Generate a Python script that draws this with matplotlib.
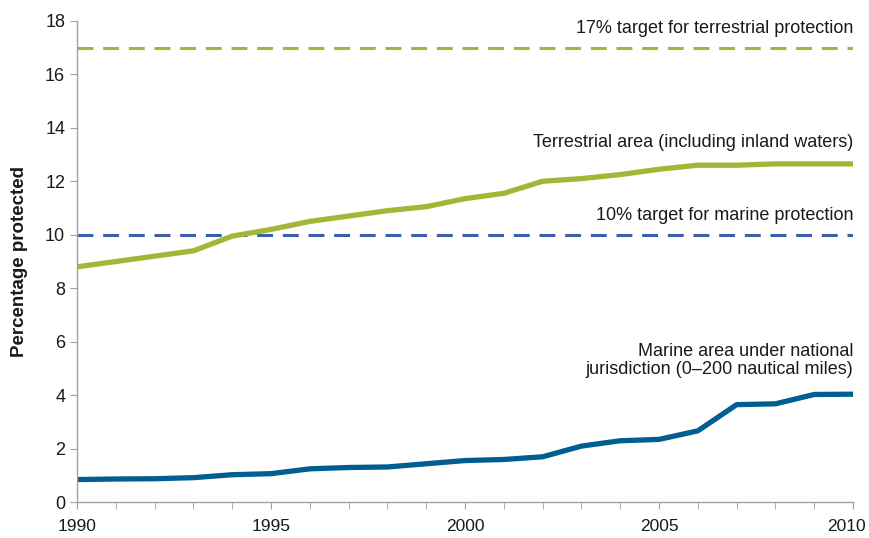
import matplotlib
matplotlib.use("Agg")
import matplotlib.pyplot as plt
from matplotlib.ticker import MultipleLocator, FuncFormatter

plt.rcParams['font.family'] = ['Liberation Sans', 'DejaVu Sans']

years = list(range(1990, 2011))
terrestrial = [8.8, 9.0, 9.2, 9.4, 9.95, 10.2, 10.5, 10.7, 10.9, 11.05, 11.35,
               11.55, 12.0, 12.1, 12.25, 12.45, 12.6, 12.6, 12.65, 12.65, 12.65]
marine = [0.85, 0.87, 0.88, 0.92, 1.03, 1.07, 1.25, 1.3, 1.32, 1.44, 1.56,
          1.6, 1.7, 2.1, 2.3, 2.35, 2.67, 3.65, 3.68, 4.03, 4.04]
terrestrial_target = 17
marine_target = 10

green = '#a4b637'
blue_dash = '#3d5fa9'
marine_col = '#005f90'

fig = plt.figure(figsize=(8.7, 5.38), dpi=100)
ax = fig.add_axes([0.0885, 0.0664, 0.892, 0.895])

ax.axhline(terrestrial_target, color=green, lw=2.2, dashes=(5.2, 3.2))
ax.axhline(marine_target, color=blue_dash, lw=2.2, dashes=(5.2, 3.2))
ax.plot(years, terrestrial, color=green, lw=3.8, solid_capstyle='round')
ax.plot(years, marine, color=marine_col, lw=3.8, solid_capstyle='round')

ax.set_xlim(years[0], years[-1])
ax.set_ylim(0, 18)
ax.xaxis.set_major_locator(MultipleLocator(5))
ax.xaxis.set_minor_locator(MultipleLocator(1))
ax.yaxis.set_major_locator(MultipleLocator(2))
# last year label is drawn separately, nudged left so it fits in the picture
ax.xaxis.set_major_formatter(
    FuncFormatter(lambda v, p: '' if round(v) == years[-1] else f'{v:.0f}'))
for s in ['top', 'right']:
    ax.spines[s].set_visible(False)
for s in ['left', 'bottom']:
    ax.spines[s].set_color('#a0a0a0')
    ax.spines[s].set_linewidth(1.0)
ax.tick_params(axis='both', which='both', color='#a0a0a0', labelsize=13,
               labelcolor='#1a1a1a')
ax.tick_params(axis='x', labelsize=12.5)
ax.tick_params(axis='both', which='major', length=5)
ax.tick_params(axis='x', which='minor', length=5)
ax.tick_params(axis='x', pad=7)
ax.annotate(str(years[-1]), xy=(years[-1], 0), xycoords=('data', 'axes fraction'),
            xytext=(-5, -12), textcoords='offset points', ha='center', va='top',
            fontsize=12.5, color='#1a1a1a', annotation_clip=False)

ax.set_ylabel('Percentage protected', fontsize=13.5, fontweight='bold',
              color='#1a1a1a', labelpad=12)

txt = dict(ha='right', va='center', fontsize=13, color='#1a1a1a')
ax.text(2010, 17.72, '17% target for terrestrial protection', **txt)
ax.text(2010, 13.46, 'Terrestrial area (including inland waters)', **txt)
ax.text(2010, 10.73, '10% target for marine protection', **txt)
ax.text(2010, 5.3, 'Marine area under national\njurisdiction (0\u2013200 nautical miles)',
        linespacing=1.15, **txt)

fig.savefig('out.png', dpi=100)
